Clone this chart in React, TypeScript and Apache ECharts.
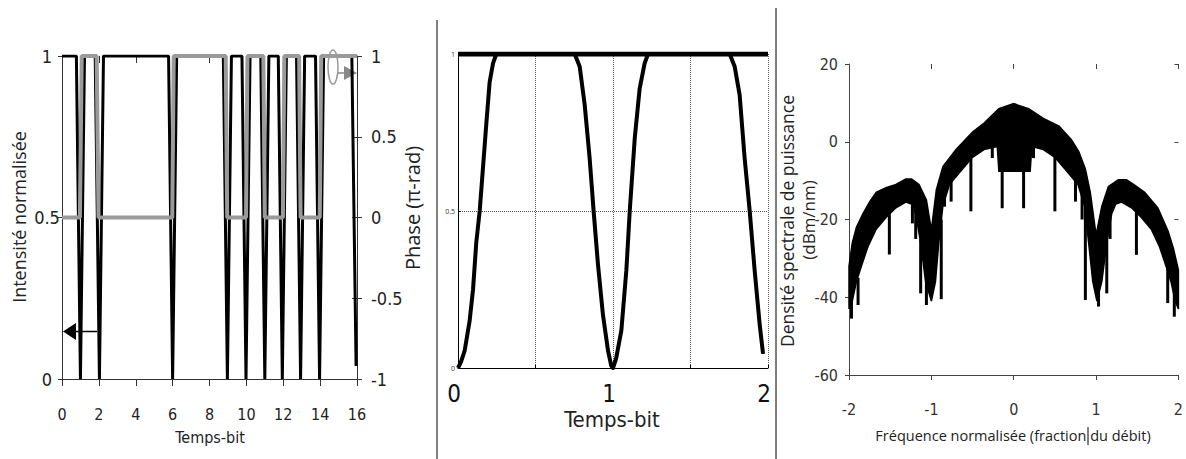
import React, { useEffect, useRef } from 'react';
import * as echarts from 'echarts';

// ---------- Left panel: intensity (left axis) and phase (right axis) ----------
const leftIntensity: [number, number][] = [
  [0, 1], [0.78, 1], [1.0, 0], [1.22, 1],
  [1.8, 1], [2.03, 0], [2.25, 1],
  [5.78, 1], [6.0, 0], [6.22, 1],
  [8.75, 1], [8.97, 0], [9.19, 1],
  [9.76, 1], [9.98, 0], [10.2, 1],
  [10.78, 1], [11.0, 0], [11.22, 1],
  [11.73, 1], [11.95, 0], [12.17, 1],
  [12.72, 1], [12.94, 0], [13.16, 1],
  [13.75, 1], [13.97, 0], [14.19, 1],
  [15.72, 1], [15.95, 0.04],
];
const leftPhase: [number, number][] = [
  [0, 0], [0.97, 0], [1.07, 1], [1.88, 1], [1.98, 0], [5.98, 0], [6.06, 1],
  [8.88, 1], [8.96, 0], [9.98, 0], [10.06, 1], [10.92, 1], [11.0, 0],
  [11.98, 0], [12.06, 1], [12.86, 1], [12.94, 0], [13.98, 0], [14.06, 1], [16, 1],
];

// ---------- Middle panel: one pattern over two bit times ----------
const midTop: [number, number][] = [[0, 1], [2, 1]];
const midT = [0, 0.02, 0.043, 0.075, 0.097, 0.118, 0.14, 0.16, 0.183, 0.204, 0.226, 0.247,
  0.753, 0.785, 0.817, 0.849, 0.875, 0.903, 0.935, 0.968, 0.989, 1.0,
  1.02, 1.054, 1.086, 1.108, 1.14, 1.172, 1.204, 1.226,
  1.753, 1.785, 1.817, 1.849, 1.882, 1.914, 1.946, 1.968];
const midI = [0, 0.02, 0.055, 0.15, 0.25, 0.4, 0.5, 0.63, 0.78, 0.91, 0.97, 1.0,
  1.0, 0.96, 0.84, 0.67, 0.5, 0.33, 0.17, 0.055, 0.007, 0.0,
  0.03, 0.12, 0.31, 0.5, 0.73, 0.89, 0.97, 1.0,
  1.0, 0.96, 0.87, 0.67, 0.5, 0.31, 0.14, 0.045];

// ---------- Right panel: power spectral density ----------
const specUpper: [number, number][] = [
  [-2, -32], [-1.96, -26], [-1.91, -22], [-1.83, -18.5], [-1.75, -15.5], [-1.67, -13],
  [-1.55, -11.8], [-1.43, -11], [-1.31, -9.6], [-1.24, -9.6], [-1.15, -11], [-1.06, -15],
  [-1.0, -22.7], [-0.94, -12.4], [-0.86, -6.4], [-0.7, -2], [-0.5, 2.5], [-0.36, 4.8],
  [-0.18, 8.5], [0, 9.8], [0.18, 8.5], [0.36, 6], [0.55, 4], [0.7, 0.5], [0.79, -2.5],
  [0.87, -7], [0.93, -13], [1.0, -24], [1.07, -16.6], [1.15, -11.5],
  [1.27, -9.8], [1.37, -9.8], [1.46, -11], [1.59, -13], [1.75, -17], [1.875, -23],
  [1.94, -27.5], [2, -33],
];
const specLower: [number, number][] = [
  [-2, -43], [-1.96, -41], [-1.91, -36], [-1.85, -32], [-1.77, -27], [-1.67, -22.5],
  [-1.55, -19.5], [-1.43, -17], [-1.31, -15.5], [-1.24, -16], [-1.19, -18.5], [-1.13, -26],
  [-1.07, -36], [-1.0, -41], [-0.95, -36], [-0.91, -26], [-0.86, -16.5], [-0.78, -11],
  [-0.66, -8], [-0.5, -4], [-0.36, -2], [-0.2, -1.2], [-0.18, -7.6], [0.2, -7.6],
  [0.22, -1.2], [0.36, -2], [0.5, -4], [0.66, -8], [0.78, -11], [0.86, -16.5],
  [0.91, -26], [0.96, -36], [1.01, -41], [1.07, -36], [1.13, -26], [1.19, -18.5],
  [1.24, -16], [1.31, -15.5], [1.43, -17], [1.55, -19.5], [1.67, -22.5], [1.77, -27],
  [1.85, -32], [1.91, -36], [1.96, -41], [2, -43],
];
// [frequency, top, bottom] of the downward spikes
const specSpikes: [number, number, number][] = [
  [-1.97, -38, -45.5], [-1.89, -35, -42], [-1.51, -18, -29], [-1.23, -15, -21],
  [-1.19, -17, -25], [-1.13, -25, -39], [-1.06, -35, -42], [-0.88, -20, -40.5],
  [-0.84, -14, -16.7], [-0.76, -8, -15.4], [-0.52, -1, -17.9], [-0.26, 0, -4.2],
  [-0.14, -7, -17.1], [0.12, -7, -17.1], [0.24, 0, -4.2], [0.5, -1, -17.9],
  [0.75, -5, -15.4], [0.83, -10, -20], [0.87, -15, -40.7], [1.03, -38, -42.4],
  [1.13, -25, -39], [1.17, -17, -25], [1.49, -18, -29.1], [1.87, -30, -41.5],
  [1.95, -38, -45],
];

const NARROW = "'Liberation Sans Narrow', 'DejaVu Sans Condensed', 'Open Sans', sans-serif";
const SANS = "'Open Sans', 'Liberation Sans', sans-serif";
const TXT = '#222';

function txt(text: string, x: number, y: number, size: number, family: string, rot = 0) {
  return {
    type: 'text', x, y, rotation: rot, silent: true,
    style: {
      text, fontSize: size, fontFamily: family, fill: TXT,
      align: 'center', verticalAlign: 'middle',
      textAlign: 'center', textVerticalAlign: 'middle',
    },
  };
}

export default function App() {
  const ref = useRef<HTMLDivElement>(null);
  useEffect(() => {
    if (!ref.current) return;
    const chart = echarts.init(ref.current, undefined, { renderer: 'svg' });
    const axisCol = '#333';
    const option: any = {
      animation: false,
      backgroundColor: '#fff',
      grid: [
        { left: 62, top: 56, width: 295, height: 323 },
        { left: 458, top: 54, width: 310, height: 314 },
        { left: 849, top: 64, width: 331, height: 311 },
      ],
      xAxis: [
        { type: 'value', gridIndex: 0, min: 0, max: 16, interval: 2,
          axisLine: { onZero: false, lineStyle: { color: axisCol } },
          axisTick: { length: 7, lineStyle: { color: axisCol } },
          axisLabel: { fontSize: 16, fontFamily: NARROW, color: TXT, margin: 27 },
          splitLine: { show: false } },
        { type: 'value', gridIndex: 0, min: 0, max: 16, interval: 2,
          axisLine: { show: false, onZero: false },
          axisTick: { inside: true, length: 7, lineStyle: { color: axisCol } },
          axisLabel: { show: false }, splitLine: { show: false } },
        { type: 'value', gridIndex: 1, min: 0, max: 2, interval: 0.5,
          axisLine: { onZero: false, lineStyle: { color: '#000' } },
          axisTick: { inside: true, length: 3, lineStyle: { color: '#000' } },
          axisLabel: { fontSize: 24, fontFamily: NARROW, color: '#111', margin: 14,
            padding: [0, 8, 0, 0],
            formatter: (v: number) => (Number.isInteger(v) ? String(v) : '') },
          splitLine: { show: true, lineStyle: { type: 'dotted', color: '#555', width: 1 } } },
        { type: 'value', gridIndex: 2, min: -2, max: 2, interval: 1,
          axisLine: { onZero: false, lineStyle: { color: '#444' } },
          axisTick: { length: 5, lineStyle: { color: '#444' } },
          axisLabel: { fontSize: 16, fontFamily: NARROW, color: '#333', margin: 26 },
          splitLine: { show: false } },
        { type: 'value', gridIndex: 2, min: -2, max: 2, interval: 1,
          axisLine: { show: false, onZero: false },
          axisTick: { inside: true, length: 5, lineStyle: { color: '#444' } },
          axisLabel: { show: false }, splitLine: { show: false } },
      ],
      yAxis: [
        { type: 'value', gridIndex: 0, min: 0, max: 1, interval: 0.5, position: 'left',
          axisLine: { show: true, onZero: false, lineStyle: { color: axisCol } },
          axisTick: { show: true, length: 4, lineStyle: { color: axisCol } },
          axisLabel: { fontSize: 18, fontFamily: NARROW, color: TXT, margin: 15, align: 'center' },
          splitLine: { show: false } },
        { type: 'value', gridIndex: 0, min: -1, max: 1, interval: 0.5, position: 'right',
          axisLine: { show: true, onZero: false, lineStyle: { color: axisCol } },
          axisTick: { show: true, length: 5, lineStyle: { color: axisCol } },
          axisLabel: { fontSize: 18, fontFamily: NARROW, color: TXT, margin: 14 },
          splitLine: { show: false } },
        { type: 'value', gridIndex: 0, min: -1, max: 1, interval: 0.5, position: 'right',
          axisLine: { show: false, onZero: false },
          axisTick: { show: true, inside: true, length: 5, lineStyle: { color: axisCol } },
          axisLabel: { show: false }, splitLine: { show: false } },
        { type: 'value', gridIndex: 1, min: 0, max: 1, interval: 0.5,
          axisLine: { show: true, onZero: false, lineStyle: { color: '#000' } },
          axisTick: { show: true, inside: true, length: 3, lineStyle: { color: '#000' } },
          axisLabel: { fontSize: 7, fontFamily: SANS, color: '#333', margin: 3 },
          splitLine: { show: true, lineStyle: { type: 'dotted', color: '#555', width: 1 } } },
        { type: 'value', gridIndex: 2, min: -60, max: 20, interval: 20,
          axisLine: { show: true, onZero: false, lineStyle: { color: '#444' } },
          axisTick: { show: true, length: 4, lineStyle: { color: '#444' } },
          axisLabel: { fontSize: 16, fontFamily: NARROW, color: '#333', margin: 11 },
          splitLine: { show: false } },
        { type: 'value', gridIndex: 2, min: -60, max: 20, interval: 20,
          axisLine: { show: false, onZero: false },
          axisTick: { show: true, inside: true, length: 4, lineStyle: { color: '#444' } },
          axisLabel: { show: false }, splitLine: { show: false } },
      ],
      series: [
        { type: 'line', xAxisIndex: 0, yAxisIndex: 0, data: leftIntensity, symbol: 'none',
          lineStyle: { color: '#000', width: 3 }, z: 3 },
        { type: 'line', xAxisIndex: 0, yAxisIndex: 1, data: leftPhase, symbol: 'none',
          lineStyle: { color: '#9a9a9a', width: 4 }, z: 4 },
        { type: 'line', xAxisIndex: 2, yAxisIndex: 3, data: midTop, symbol: 'none',
          lineStyle: { color: '#000', width: 5 }, z: 4 },
        { type: 'line', xAxisIndex: 2, yAxisIndex: 3,
          data: midT.map((t, i) => [t, midI[i]]), symbol: 'none',
          lineStyle: { color: '#000', width: 4, join: 'round' }, z: 4 },
        { type: 'custom', xAxisIndex: 3, yAxisIndex: 4, data: [[0, 0]], z: 4,
          renderItem: (_p: any, api: any) => {
            const pts = specUpper.map((p) => api.coord(p))
              .concat(specLower.slice().reverse().map((p) => api.coord(p)));
            return { type: 'polygon', shape: { points: pts },
              style: { fill: '#000', stroke: '#000', lineWidth: 1.5 } };
          } },
        { type: 'custom', xAxisIndex: 3, yAxisIndex: 4, data: specSpikes, z: 4,
          encode: { x: 0, y: [1, 2] },
          renderItem: (_p: any, api: any) => {
            const a = api.coord([api.value(0), api.value(1)]);
            const b = api.coord([api.value(0), api.value(2)]);
            return { type: 'line', shape: { x1: a[0], y1: a[1], x2: b[0], y2: b[1] },
              style: { stroke: '#000', lineWidth: 3 } };
          } },
      ],
      graphic: {
        elements: [
          { type: 'line', silent: true, shape: { x1: 437, y1: 20, x2: 437, y2: 459 },
            style: { stroke: '#000', lineWidth: 1 } },
          { type: 'line', silent: true, shape: { x1: 776, y1: 8, x2: 776, y2: 459 },
            style: { stroke: '#000', lineWidth: 1 } },
          // left panel annotations
          { type: 'ellipse', silent: true, shape: { cx: 333, cy: 67, rx: 5, ry: 17 },
            style: { fill: 'none', stroke: '#999', lineWidth: 1.5 } },
          { type: 'line', silent: true, shape: { x1: 338, y1: 73, x2: 346, y2: 73 },
            style: { stroke: '#888', lineWidth: 1.5 } },
          { type: 'polygon', silent: true, shape: { points: [[344, 66], [357, 73], [344, 80]] },
            style: { fill: '#888' } },
          { type: 'line', silent: true, shape: { x1: 74, y1: 331.5, x2: 97, y2: 331.5 },
            style: { stroke: '#000', lineWidth: 1.5 } },
          { type: 'polygon', silent: true, shape: { points: [[63, 331.5], [76, 323], [76, 340]] },
            style: { fill: '#000' } },
          // cursor mark in the right x-axis title
          { type: 'line', silent: true, shape: { x1: 1088, y1: 427, x2: 1088, y2: 445 },
            style: { stroke: '#000', lineWidth: 1 } },
          txt('Intensité normalisée', 19, 217, 18, SANS, Math.PI / 2),
          txt('Phase (π-rad)', 412, 208, 20, SANS, Math.PI / 2),
          txt('Temps-bit', 210, 437, 16, NARROW),
          txt('Temps-bit', 612, 419, 22, NARROW),
          txt('Densité spectrale de puissance', 787, 221, 17.5, SANS, Math.PI / 2),
          txt('(dBm/nm)', 808, 220, 17, SANS, Math.PI / 2),
          txt('Fréquence normalisée (fraction du débit)', 1013, 435, 14.5, SANS),
        ],
      },
    };
    chart.setOption(option);
    return () => chart.dispose();
  }, []);
  return (
    <div
      ref={ref}
      style={{ position: 'absolute', left: 0, top: 0, width: 1186, height: 459, background: '#fff' }}
    />
  );
}
